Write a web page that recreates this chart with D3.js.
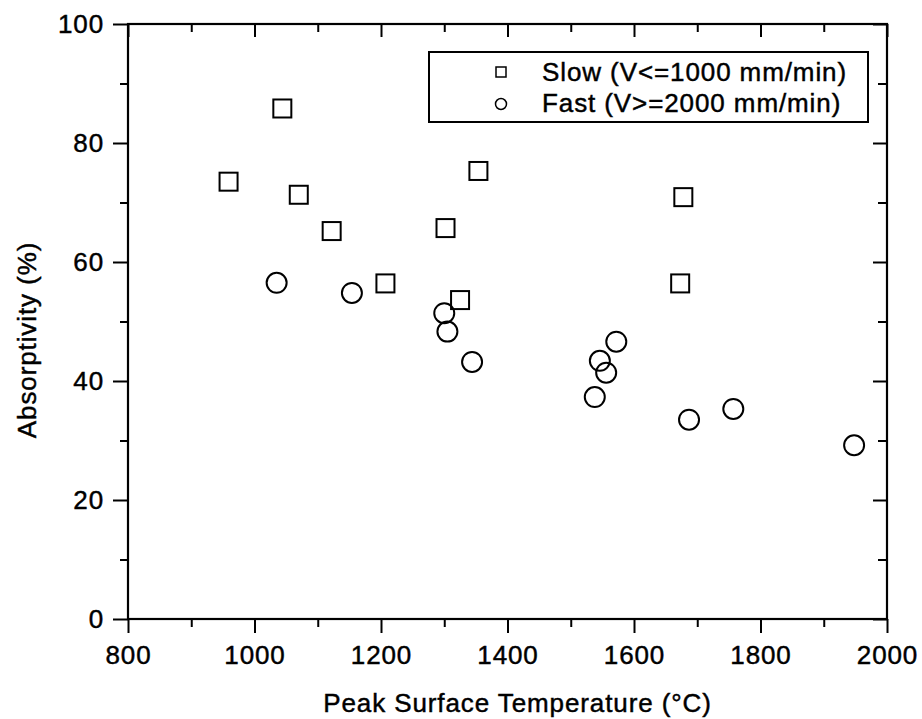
<!DOCTYPE html>
<html>
<head>
  <title>Absorptivity vs Peak Surface Temperature</title>
  <script src="https://d3js.org/d3.v7.min.js"></script>
  <style>
    body { margin: 0; background: #fff; }
    text { font-family: Arial, "Liberation Sans", sans-serif; fill: #000; stroke: #000; stroke-width: 0.45px; letter-spacing: 0.9px; }
  </style>
</head>
<body>
  <div id="chart"></div>
  <script>
    // slow scans (V<=1000 mm/min)
    const slowTemp = [959, 1044, 1070, 1122, 1207, 1302, 1325, 1354, 1673, 1678];
    const slowAbs = [73.5, 85.8, 71.3, 65.2, 56.4, 65.7, 53.6, 75.3, 56.4, 70.9];
    // fast scans (V>=2000 mm/min)
    const fastTemp = [1035, 1154, 1300, 1305, 1344, 1538, 1546, 1556, 1572, 1687, 1757, 1948];
    const fastAbs = [56.5, 54.8, 51.4, 48.3, 43.2, 37.3, 43.4, 41.4, 46.6, 33.5, 35.3, 29.2];

    const xTicks = [800, 1000, 1200, 1400, 1600, 1800, 2000];
    const yTicks = [0, 20, 40, 60, 80, 100];
    const legendLabels = ["Slow (V<=1000 mm/min)", "Fast (V>=2000 mm/min)"];

    const W = 922, H = 719;
    const plotL = 128, plotR = 887, plotT = 24, plotB = 619;
    const fs = 26;

    const svg = d3.select("#chart").append("svg")
      .attr("width", W).attr("height", H);

    const x = d3.scaleLinear().domain([800, 2000]).range([plotL, plotR]);
    const y = d3.scaleLinear().domain([0, 100]).range([plotB, plotT]);

    const xMinor = d3.range(900, 2000, 200);
    const yMinor = d3.range(10, 100, 20);

    function styleAxis(g) {
      g.select(".domain").remove();
      g.selectAll("line").attr("stroke", "#000").attr("stroke-width", 2);
      g.selectAll("text").attr("font-size", fs).attr("fill", "#000")
        .style("font-family", "Arial, 'Liberation Sans', sans-serif");
    }

    // bottom axis, ticks outward
    svg.append("g").attr("transform", `translate(0,${plotB})`)
      .call(d3.axisBottom(x).tickValues(xTicks).tickSize(14).tickPadding(13).tickFormat(d3.format("d")))
      .call(styleAxis);
    svg.append("g").attr("transform", `translate(0,${plotB})`)
      .call(d3.axisBottom(x).tickValues(xMinor).tickSize(8).tickFormat(""))
      .call(styleAxis);

    // top axis, ticks inward
    svg.append("g").attr("transform", `translate(0,${plotT})`)
      .call(d3.axisBottom(x).tickValues(xTicks).tickSize(13).tickFormat(""))
      .call(styleAxis);
    svg.append("g").attr("transform", `translate(0,${plotT})`)
      .call(d3.axisBottom(x).tickValues(xMinor).tickSize(8).tickFormat(""))
      .call(styleAxis);

    // left axis, ticks outward
    svg.append("g").attr("transform", `translate(${plotL},0)`)
      .call(d3.axisLeft(y).tickValues(yTicks).tickSize(15).tickPadding(9))
      .call(styleAxis);
    svg.append("g").attr("transform", `translate(${plotL},0)`)
      .call(d3.axisLeft(y).tickValues(yMinor).tickSize(8).tickFormat(""))
      .call(styleAxis);

    // right axis, ticks inward
    svg.append("g").attr("transform", `translate(${plotR},0)`)
      .call(d3.axisLeft(y).tickValues(yTicks).tickSize(14).tickFormat(""))
      .call(styleAxis);
    svg.append("g").attr("transform", `translate(${plotR},0)`)
      .call(d3.axisLeft(y).tickValues(yMinor).tickSize(9).tickFormat(""))
      .call(styleAxis);

    // frame
    svg.append("rect")
      .attr("x", plotL).attr("y", plotT)
      .attr("width", plotR - plotL).attr("height", plotB - plotT)
      .attr("fill", "none").attr("stroke", "#000").attr("stroke-width", 2.2);

    // markers
    const sq = 18;
    svg.append("g").selectAll("rect")
      .data(slowTemp.map((t, i) => ({ t, a: slowAbs[i] })))
      .join("rect")
      .attr("x", d => x(d.t) - sq / 2).attr("y", d => y(d.a) - sq / 2)
      .attr("width", sq).attr("height", sq)
      .attr("fill", "none").attr("stroke", "#000").attr("stroke-width", 2);

    svg.append("g").selectAll("circle")
      .data(fastTemp.map((t, i) => ({ t, a: fastAbs[i] })))
      .join("circle")
      .attr("cx", d => x(d.t)).attr("cy", d => y(d.a)).attr("r", 10)
      .attr("fill", "none").attr("stroke", "#000").attr("stroke-width", 2);

    // legend
    const lg = svg.append("g");
    lg.append("rect")
      .attr("x", 429).attr("y", 52).attr("width", 439).attr("height", 70)
      .attr("fill", "#fff").attr("stroke", "#000").attr("stroke-width", 2);
    lg.append("rect")
      .attr("x", 496).attr("y", 67).attr("width", 10).attr("height", 10)
      .attr("fill", "none").attr("stroke", "#000").attr("stroke-width", 1.5);
    lg.append("circle")
      .attr("cx", 501).attr("cy", 104).attr("r", 5.5)
      .attr("fill", "none").attr("stroke", "#000").attr("stroke-width", 1.5);
    lg.selectAll("text.lab")
      .data(legendLabels)
      .join("text")
      .attr("class", "lab")
      .attr("x", 542).attr("y", (d, i) => 81 + i * 31)
      .attr("font-size", fs)
      .text(d => d);

    // axis titles
    svg.append("text")
      .attr("x", (plotL + plotR) / 2 + 10).attr("y", 712)
      .attr("text-anchor", "middle").attr("font-size", fs)
      .text("Peak Surface Temperature (°C)");
    svg.append("text")
      .attr("transform", `translate(36,340) rotate(-90)`)
      .attr("text-anchor", "middle").attr("font-size", fs)
      .text("Absorptivity (%)");
  </script>
</body>
</html>
